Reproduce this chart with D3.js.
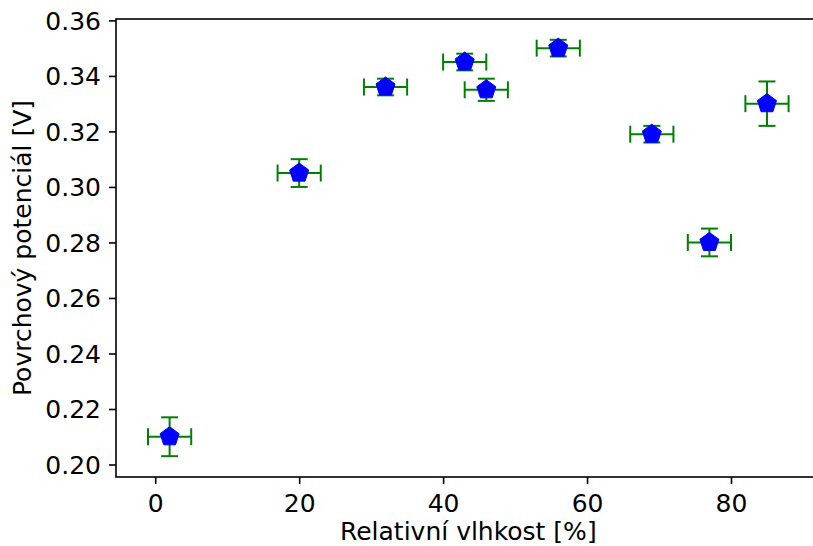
<!DOCTYPE html>
<html>
<head>
<meta charset="utf-8">
<script src="https://cdn.jsdelivr.net/npm/d3@7"></script>
<style>
  html, body { margin: 0; padding: 0; background: #fff; overflow: hidden; }
  svg { display: block; font-family: "DejaVu Sans", sans-serif; }
</style>
</head>
<body>
<svg id="chart" width="813" height="546"></svg>
<script>
// Data
const humidity = [2, 20, 32, 43, 46, 56, 69, 77, 85];
const potential = [0.210, 0.305, 0.336, 0.345, 0.335, 0.350, 0.319, 0.280, 0.330];
const humidityErr = [3, 3, 3, 3, 3, 3, 3, 3, 3];
const potentialErr = [0.007, 0.005, 0.003, 0.003, 0.004, 0.003, 0.003, 0.005, 0.008];
const xTicks = [0, 20, 40, 60, 80];
const yTicks = [0.20, 0.22, 0.24, 0.26, 0.28, 0.30, 0.32, 0.34, 0.36];
const xLabel = "Relativní vlhkost [%]";
const yLabel = "Povrchový potenciál [V]";

const points = humidity.map((x, i) => ({x, y: potential[i], xe: humidityErr[i], ye: potentialErr[i]}));

const svg = d3.select("#chart");
const pLeft = 116, pRight = 820.6, pTop = 19, pBottom = 477;

function padded(lo, hi) { const s = hi - lo; return [lo - 0.05 * s, hi + 0.05 * s]; }
const xDom = padded(d3.min(points, d => d.x - d.xe), d3.max(points, d => d.x + d.xe));
const yDom = padded(d3.min(points, d => d.y - d.ye), d3.max(points, d => d.y + d.ye));

const x = d3.scaleLinear().domain(xDom).range([pLeft, pRight]);
const y = d3.scaleLinear().domain(yDom).range([pBottom, pTop]);

const fontSize = 25;
const tickLen = 7;

// Axes
const xAxis = svg.append("g").attr("transform", `translate(0,${pBottom})`)
  .call(d3.axisBottom(x).tickValues(xTicks).tickFormat(d3.format("d")).tickSize(tickLen).tickPadding(7));
const yAxis = svg.append("g").attr("transform", `translate(${pLeft},0)`)
  .call(d3.axisLeft(y).tickValues(yTicks).tickFormat(d3.format(".2f")).tickSize(tickLen).tickPadding(7));

[xAxis, yAxis].forEach(g => {
  g.select(".domain").remove();
  g.selectAll(".tick line").attr("stroke", "#000").attr("stroke-width", 1.6);
  g.selectAll(".tick text").attr("fill", "#000").attr("font-size", fontSize)
    .attr("font-family", "DejaVu Sans, sans-serif");
});
xAxis.selectAll(".tick text").attr("dy", null).attr("y", 35);
yAxis.selectAll(".tick text").attr("dy", "0.36em").attr("x", -15);

// Frame
svg.append("rect")
  .attr("x", pLeft).attr("y", pTop)
  .attr("width", pRight - pLeft).attr("height", pBottom - pTop)
  .attr("fill", "none").attr("stroke", "#000").attr("stroke-width", 1.6);

// Error bars
const cap = 8.5;
const eb = svg.append("g").attr("stroke", "#008000").attr("stroke-width", 2).attr("fill", "none");
points.forEach(p => {
  const cx = x(p.x), cy = y(p.y);
  const x0 = x(p.x - p.xe), x1 = x(p.x + p.xe);
  const y0 = y(p.y - p.ye), y1 = y(p.y + p.ye);
  const g = eb.append("g");
  g.append("line").attr("x1", x0).attr("x2", x1).attr("y1", cy).attr("y2", cy);
  g.append("line").attr("x1", cx).attr("x2", cx).attr("y1", y0).attr("y2", y1);
  g.append("line").attr("x1", x0).attr("x2", x0).attr("y1", cy - cap).attr("y2", cy + cap);
  g.append("line").attr("x1", x1).attr("x2", x1).attr("y1", cy - cap).attr("y2", cy + cap);
  g.append("line").attr("x1", cx - cap).attr("x2", cx + cap).attr("y1", y0).attr("y2", y0);
  g.append("line").attr("x1", cx - cap).attr("x2", cx + cap).attr("y1", y1).attr("y2", y1);
});

// Pentagon markers
const R = 10;
const pentagon = d3.range(5).map(k => {
  const a = -Math.PI / 2 + k * 2 * Math.PI / 5;
  return [R * Math.cos(a), R * Math.sin(a)];
});
const pentPath = d3.line()(pentagon) + "Z";
svg.append("g").selectAll("path").data(points).join("path")
  .attr("d", pentPath)
  .attr("transform", d => `translate(${x(d.x)},${y(d.y)})`)
  .attr("fill", "#0000ff").attr("stroke", "#0000ff").attr("stroke-width", 1);

// Axis labels
svg.append("text")
  .attr("x", (pLeft + pRight) / 2).attr("y", 540)
  .attr("text-anchor", "middle").attr("font-size", fontSize).attr("fill", "#000")
  .text(xLabel);
svg.append("text")
  .attr("transform", `translate(31,${(pTop + pBottom) / 2}) rotate(-90)`)
  .attr("text-anchor", "middle").attr("font-size", fontSize).attr("fill", "#000")
  .text(yLabel);
</script>
</body>
</html>
